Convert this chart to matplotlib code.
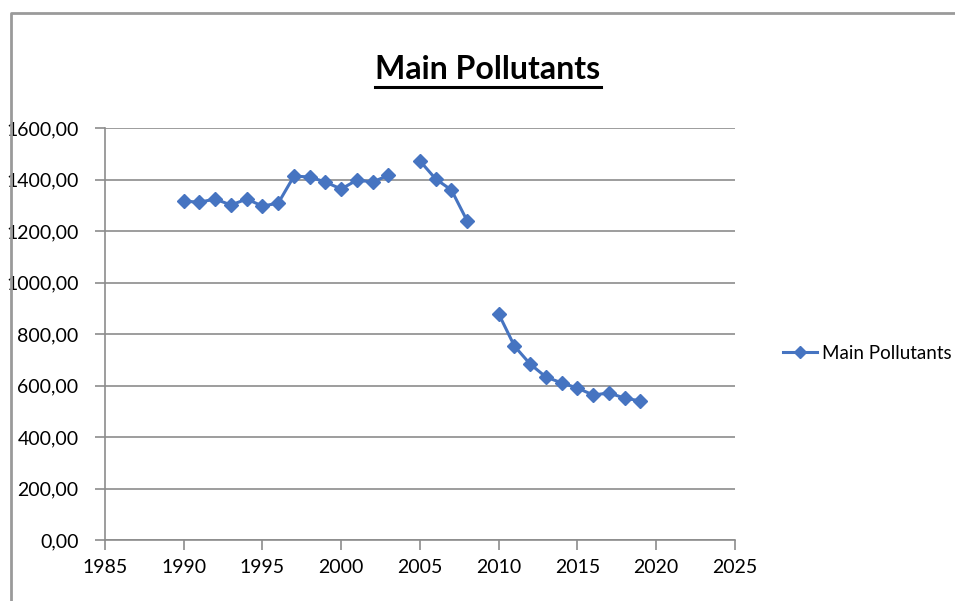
import numpy as np
import matplotlib
matplotlib.use("Agg")
import matplotlib.pyplot as plt
from matplotlib.lines import Line2D
from matplotlib.ticker import FuncFormatter

years = [1990, 1991, 1992, 1993, 1994, 1995, 1996, 1997, 1998, 1999,
         2000, 2001, 2002, 2003, 2004, 2005, 2006, 2007, 2008, 2009,
         2010, 2011, 2012, 2013, 2014, 2015, 2016, 2017, 2018, 2019]
# 2004 and 2009 have no value -> gaps in the line
pollutants = [1316, 1312, 1324, 1301, 1324, 1297, 1308, 1413, 1410, 1390,
              1363, 1398, 1390, 1417, np.nan, 1472, 1402, 1359, 1239, np.nan,
              878, 753, 683, 633, 610, 590, 563, 571, 551, 540]
x_ticks = list(range(1985, 2030, 5))
y_ticks = list(range(0, 1800, 200))

TICK_FONT = ["Lato", "DejaVu Sans"]
BLUE = "#4674C1"
GRID = "#8C8C8C"

fig = plt.figure(figsize=(9.55, 6.01), dpi=100)
ax = fig.add_axes([0.1099, 0.1015, 0.6597, 0.6855])

ax.plot(years, pollutants, color=BLUE, lw=2.2, marker="D", ms=7,
        markeredgecolor=BLUE, markerfacecolor=BLUE, label="Main Pollutants")

ax.set_xlim(1985, 2025)
ax.set_ylim(0, 1600)
ax.set_xticks(x_ticks)
ax.set_yticks(y_ticks)
ax.yaxis.set_major_formatter(FuncFormatter(lambda v, p: f"{v:.2f}".replace(".", ",")))
ax.grid(axis="y", color=GRID, lw=1.2)
ax.set_axisbelow(True)
for side in ("top", "right"):
    ax.spines[side].set_visible(False)
for side in ("left", "bottom"):
    ax.spines[side].set_color(GRID)
    ax.spines[side].set_linewidth(1.2)
ax.tick_params(axis="both", direction="out", length=7, width=1.2, color=GRID,
               labelsize=14, pad=7)
ax.tick_params(axis="y", pad=12)
for lab in ax.get_xticklabels() + ax.get_yticklabels():
    lab.set_family(TICK_FONT)

leg = fig.legend(handles=[Line2D([], [], color=BLUE, lw=2.2, marker="D", ms=6)],
                 labels=["Main Pollutants"], loc="center left",
                 bbox_to_anchor=(0.82, 0.412), frameon=False,
                 borderaxespad=0, borderpad=0,
                 handlelength=1.8, handletextpad=0.3,
                 prop={"family": TICK_FONT, "size": 13.5})

title = fig.text(0.511, 0.885, "Main Pollutants", ha="center", va="center",
                 fontsize=23, fontweight="bold", family=["Lato", "DejaVu Sans"])
fig.canvas.draw()
bb = title.get_window_extent().transformed(fig.transFigure.inverted())
fig.add_artist(Line2D([bb.x0, bb.x1], [bb.y0 - 0.006, bb.y0 - 0.006],
                      transform=fig.transFigure, color="black", lw=2.2))

# outer chart frame (left and top edges)
fig.add_artist(Line2D([0.0115, 0.0115, 1.0], [0.0, 0.978, 0.978],
                      transform=fig.transFigure, color="#9A9A9A", lw=2))

fig.savefig("out.png", dpi=100)
